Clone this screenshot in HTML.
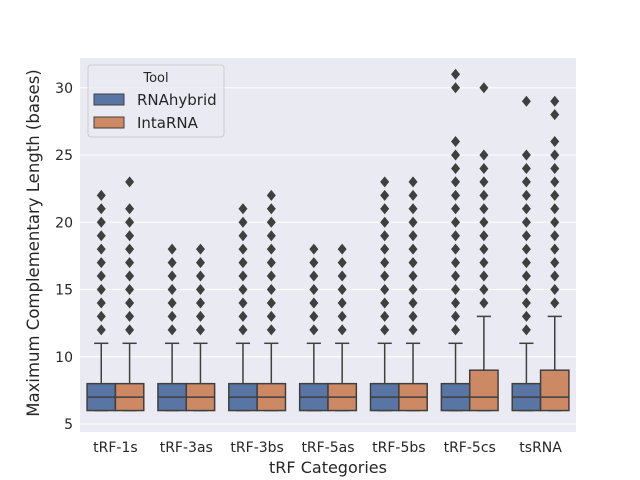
<!DOCTYPE html>
<html><head><meta charset="utf-8"><style>body{margin:0;background:#fff}svg{display:block;font-family:"DejaVu Sans","Liberation Sans",sans-serif}</style></head>
<body>
<svg id="chart" width="640" height="480" xmlns="http://www.w3.org/2000/svg">
<rect x="80" y="58" width="496" height="374" fill="#eaeaf2"/>
<g id="grid"></g><g id="marks"></g><g id="axes"></g>
<text x="328" y="473" font-size="16" text-anchor="middle" fill="#262626">tRF Categories</text>
<text transform="translate(39,243) rotate(-90)" font-size="16.5" text-anchor="middle" fill="#262626">Maximum Complementary Length (bases)</text>
<g>
<rect x="88" y="65" width="136" height="72" rx="3" fill="#eaeaf2" fill-opacity="0.8" stroke="#cccccc"/>
<text x="156" y="82" font-size="13" text-anchor="middle" fill="#262626">Tool</text>
<rect x="94" y="94" width="30" height="11" fill="#5875a4" stroke="#3f3f3f"/>
<text x="137" y="105" font-size="15" fill="#262626">RNAhybrid</text>
<rect x="94" y="117" width="30" height="11" fill="#cc8963" stroke="#3f3f3f"/>
<text x="137" y="128" font-size="15" fill="#262626">IntaRNA</text>
</g>
</svg>
<script>
const categories=["tRF-1s","tRF-3as","tRF-3bs","tRF-5as","tRF-5bs","tRF-5cs","tsRNA"];
const yTicks=[5,10,15,20,25,30];
function rng(a,b){const r=[];for(let i=a;i<=b;i++)r.push(i);return r;}
// [q1, median, q3, whiskerLow, whiskerHigh]
const rnaStats=[[6,7,8,6,11],[6,7,8,6,11],[6,7,8,6,11],[6,7,8,6,11],[6,7,8,6,11],[6,7,8,6,11],[6,7,8,6,11]];
const intaStats=[[6,7,8,6,11],[6,7,8,6,11],[6,7,8,6,11],[6,7,8,6,11],[6,7,8,6,11],[6,7,9,6,13],[6,7,9,6,13]];
const rnaOutliers=[rng(12,22),rng(12,18),rng(12,21),rng(12,18),rng(12,23),rng(12,26).concat([30,31]),rng(12,25).concat([29])];
const intaOutliers=[rng(12,21).concat([23]),rng(12,18),rng(12,22),rng(12,18),rng(12,23),rng(14,25).concat([30]),rng(14,26).concat([28,29])];
const NS="http://www.w3.org/2000/svg";
const L=80,R=576;
const band=(R-L)/categories.length;
function x(i){return L+band*(i+0.5);}
function y(v){return 424-(v-5)*13.45;}
function mk(parent,tag,attrs){const e=document.createElementNS(NS,tag);for(const k in attrs)e.setAttribute(k,attrs[k]);parent.appendChild(e);return e;}
const grid=document.getElementById('grid'),marks=document.getElementById('marks'),axes=document.getElementById('axes');
yTicks.forEach(t=>{
  const l=mk(grid,'line',{x1:L,x2:R,y1:y(t),y2:y(t),stroke:'#fff','stroke-width':1});
  
  
  const tx=mk(axes,'text',{x:L-7,y:y(t)+5,'font-size':14,'text-anchor':'end',fill:'#262626'});
  tx.textContent=t;
  
  
});
const bw=band*0.8/2;
function drawBox(i,off,st,outs,color,name){
  const cx=x(i)+off*bw, x0=cx-bw/2;
  const g=mk(marks,'g',{});
  
  
  const c='#3f3f3f';
  mk(g,'line',{x1:cx,x2:cx,y1:y(st[2]),y2:y(st[4]),stroke:c,'stroke-width':1.5});
  mk(g,'line',{x1:cx-bw/4,x2:cx+bw/4,y1:y(st[4]),y2:y(st[4]),stroke:c,'stroke-width':1.5});
  mk(g,'line',{x1:cx-bw/4,x2:cx+bw/4,y1:y(st[3]),y2:y(st[3]),stroke:c,'stroke-width':1.5});
  mk(g,'rect',{x:x0,y:y(st[2]),width:bw,height:y(st[0])-y(st[2]),fill:color,stroke:c,'stroke-width':1.5});
  mk(g,'line',{x1:x0,x2:x0+bw,y1:y(st[1]),y2:y(st[1]),stroke:c,'stroke-width':1.5});
  outs.forEach(v=>{
    const yy=y(v);
    const p=mk(g,'path',{d:`M${cx},${yy-5.5}L${cx+4.5},${yy}L${cx},${yy+5.5}L${cx-4.5},${yy}Z`,fill:c});
    
    
  });
}
categories.forEach((c,i)=>{
  drawBox(i,-0.5,rnaStats[i],rnaOutliers[i],'#5875a4','box-rnahybrid');
  drawBox(i,0.5,intaStats[i],intaOutliers[i],'#cc8963','box-intarna');
  const tx=mk(axes,'text',{x:x(i),y:452,'font-size':14,'text-anchor':'middle',fill:'#262626'});
  tx.textContent=c;
  
  
});
</script>
</body></html>
